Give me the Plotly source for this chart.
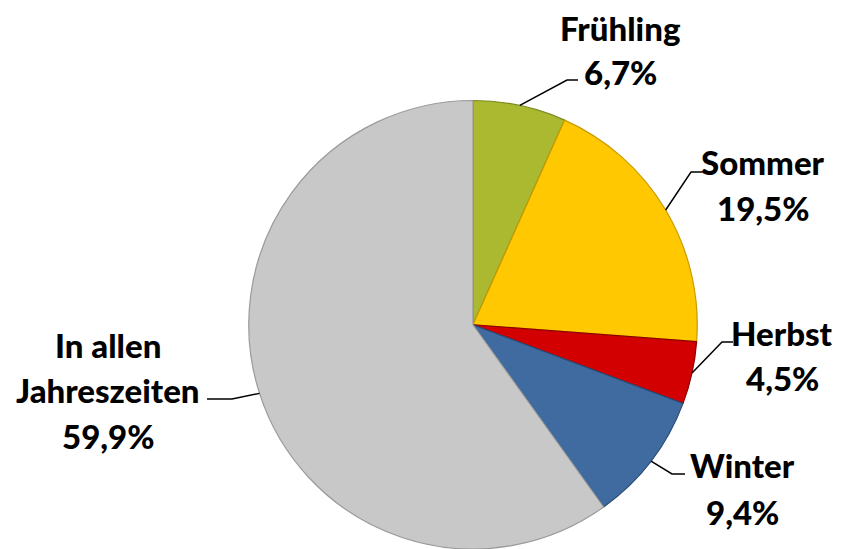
import math
import plotly.graph_objects as go

# ── data ─────────────────────────────────────────────────────────────────────
seasons = ["Frühling", "Sommer", "Herbst", "Winter", "In allen<br>Jahreszeiten"]
shares = [6.7, 19.5, 4.5, 9.4, 59.9]
colors = ["#AAB92F", "#FFC800", "#D20000", "#3F6BA0", "#C8C8C8"]
edge_colors = ["#7E8A1E", "#C99A00", "#8E0000", "#2A4A72", "#9A9A9A"]

# ── layout (pixels in the 843x549 page) ──────────────────────────────────────
W, H = 843, 549
CX, CY, R = 473, 325, 224.5

# end of each leader line (where the label box starts)
line_ends = [(578, 80), (702, 172), (733, 342), (685, 474), (207, 399)]
elbow_dx = [-11, -11, -11, -13, 25]
label_lines_y = [[28, 72], [162, 208], [333, 378], [465, 512], [345, 390, 436]]
label_cx = [620, 763, 782, 742, 108]


def px(x, y):
    return x / W, 1 - y / H


# pie domain chosen so the pie sits at (CX, CY) with radius R
y_lo = max(0.0, (H - CY - R) / H)
y_hi = min(1.0, (H - CY + R) / H)
R_eff = min(2 * R, (y_hi - y_lo) * H) / 2
CY_eff = H - (y_lo * H + (y_hi - y_lo) * H / 2)

fig = go.Figure()

fig.add_trace(
    go.Pie(
        labels=[s.replace("<br>", " ") for s in seasons],
        values=shares,
        sort=False,
        direction="clockwise",
        rotation=0,
        textinfo="none",
        hovertemplate="%{label}: %{value:.1f}%<extra></extra>",
        marker=dict(colors=colors, line=dict(color=edge_colors, width=1.2)),
        domain=dict(x=[(CX - R) / W, (CX + R) / W], y=[y_lo, y_hi]),
        showlegend=False,
    )
)

# leader lines: start on the pie edge at each slice's mid-angle
cum = 0.0
total = sum(shares)
for i, v in enumerate(shares):
    mid = (cum + v / 2) / total * 2 * math.pi
    cum += v
    ex, ey = CX + R_eff * math.sin(mid), CY_eff - R_eff * math.cos(mid)
    lx, ly = line_ends[i]
    kx = lx + elbow_dx[i]
    pts = [px(ex, ey), px(kx, ly), px(lx, ly)]
    path = "M {} {} L {} {} L {} {}".format(*[c for p in pts for c in p])
    fig.add_shape(type="path", path=path, xref="paper", yref="paper",
                  line=dict(color="black", width=1.5))

    # labels, one annotation per text line
    text_lines = seasons[i].split("<br>") + [f"{v:.1f}%".replace(".", ",")]
    for t, yy in zip(text_lines, label_lines_y[i]):
        ax, ay = px(label_cx[i], yy)
        fig.add_annotation(
            x=ax, y=ay, xref="paper", yref="paper",
            text=t, showarrow=False,
            xanchor="center", yanchor="middle",
            font=dict(family="Lato", size=33, color="black", weight=900),
        )

fig.update_layout(
    width=W, height=H,
    margin=dict(l=0, r=0, t=0, b=0),
    paper_bgcolor="white",
    plot_bgcolor="white",
)

fig.write_html(
    "out.html",
    config={"displayModeBar": False},
    post_script="document.body.style.margin = '0';",
)
